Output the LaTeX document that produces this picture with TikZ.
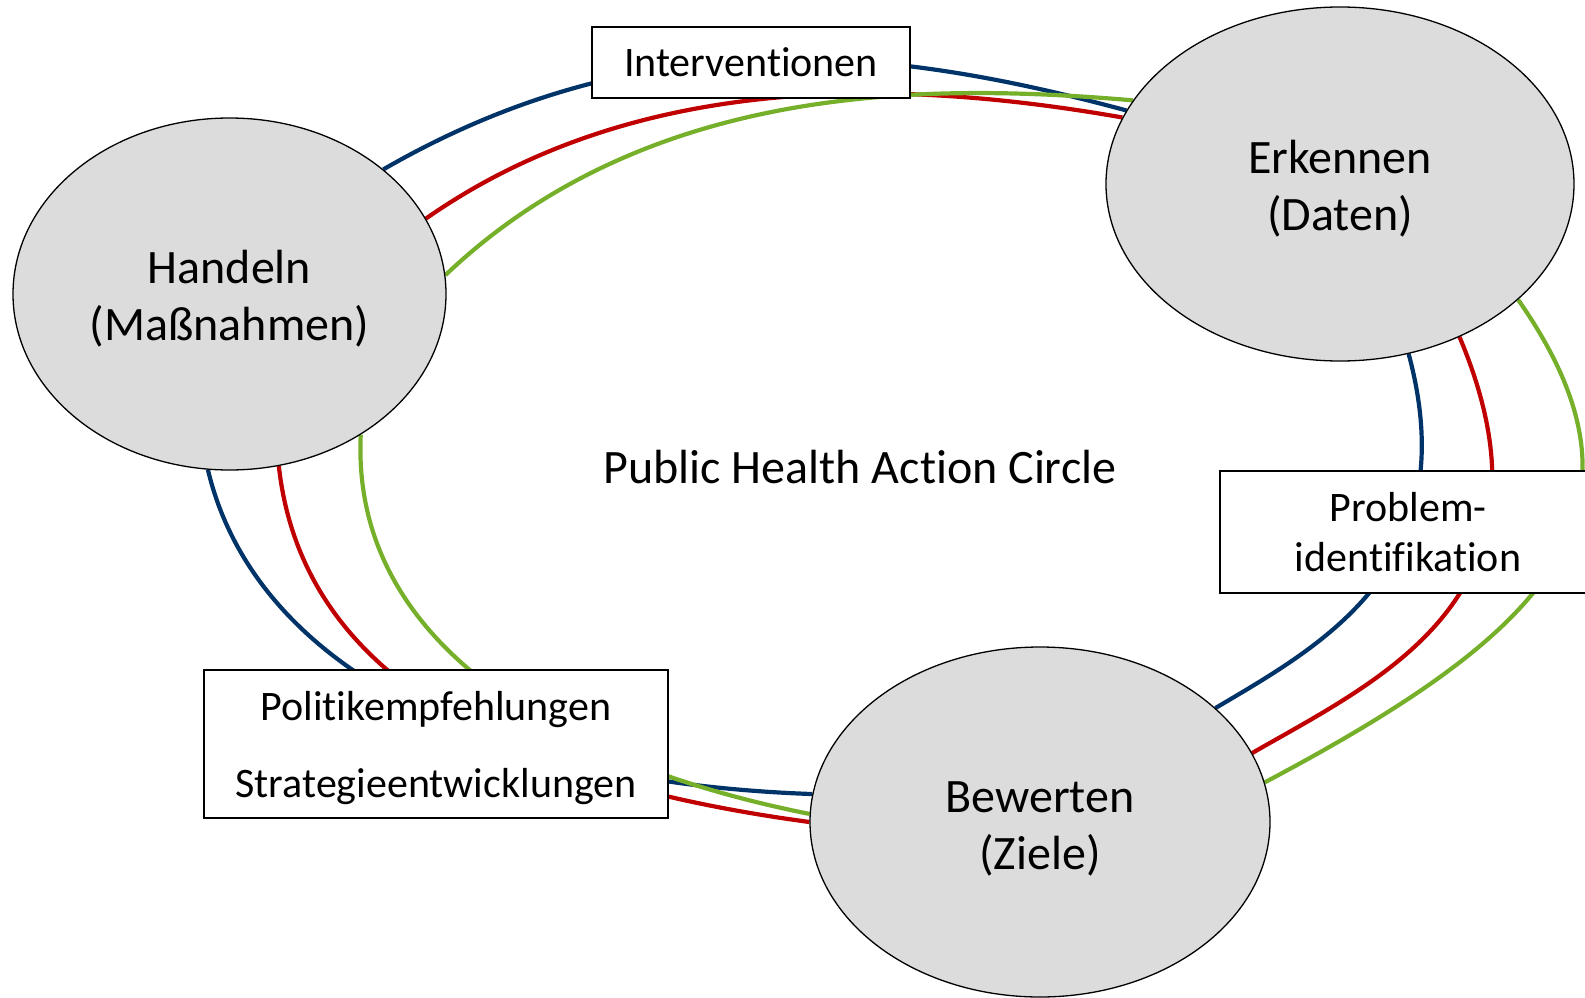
\documentclass[tikz,border=0pt]{standalone}
\usepackage{fontspec}
\setmainfont{Carlito}[Ligatures=NoCommon]
\usetikzlibrary{shapes.geometric}
\definecolor{cblue}{RGB}{0,52,105}
\definecolor{cred}{RGB}{192,0,0}
\definecolor{cgreen}{RGB}{118,176,43}
\definecolor{cfill}{RGB}{220,220,220}
\pgfdeclarelayer{bg}
\pgfsetlayers{bg,main}
\begin{document}
\begin{tikzpicture}[x=1pt,y=-1pt,
  phase/.style={ellipse, draw=black, line width=1.3pt, fill=cfill, inner sep=0pt},
  phasetext/.style={align=center, inner sep=0pt, font=\fontsize{48}{57}\selectfont},
  labelbox/.style={draw=black, line width=1.8pt, fill=white, inner sep=0pt, align=center, font=\fontsize{42}{50}\selectfont},
  link/.style={line width=4.2pt}]
\useasboundingbox (0,0) rectangle (1585,998);
\clip (0,0) rectangle (1585,998);
% phases
\node[phase, minimum width=433pt, minimum height=352pt] (h) at (229.5,294) {};
\node[phase, minimum width=468pt, minimum height=354pt] (e) at (1340,184) {};
\node[phase, minimum width=460pt, minimum height=350pt] (b) at (1040,822) {};
\node[phasetext] (ht) at (229.5,299) {Handeln\\(Maßnahmen)};
\node[phasetext] (et) at (1340,189) {Erkennen\\(Daten)};
\node[phasetext] (bt) at (1040,829) {Bewerten\\(Ziele)};
% connectors (behind)
\begin{pgfonlayer}{bg}
% top: Handeln -> Erkennen
\draw[link, cblue]  (h.39) .. controls +(260,-150) and +(-241,-65) .. (e.161);
\draw[link, cred]   (h.21) .. controls +(213,-149) and +(-217,-38) .. (e.163);
\draw[link, cgreen] (h.5)  .. controls +(205,-195) and +(-199,-17) .. (e.158.5);
% right: Erkennen -> Bewerten
\draw[link, cblue]  (e.292.6) .. controls +(57,212)  and +(110,-65)  .. (b.33.6);
\draw[link, cred]   (e.308.6) .. controls +(109,258) and +(130,-75)  .. (b.18);
\draw[link, cgreen] (e.327.4) .. controls +(149,213) and +(283,-150) .. (b.10.6);
% bottom: Handeln -> Bewerten
\draw[link, cblue]  (h.263.5) .. controls +(45,190)  and +(-340,-12) .. (b.173.7);
\draw[link, cred]   (h.286.2) .. controls +(22,199)  and +(-326,-44) .. (b.180);
\draw[link, cgreen] (h.313.7) .. controls +(-10,210) and +(-250,-50) .. (b.178);
\end{pgfonlayer}
% label boxes
\node[labelbox, minimum width=318pt, minimum height=71pt] (iv) at (751,62.5) {Interventionen};
\node[labelbox, minimum width=376pt, minimum height=122pt] (pi) at (1408,532) {Problem-\\identifikation};
\node[labelbox, minimum width=464pt, minimum height=148pt] (pe) at (436,744) {};
\node[align=center, inner sep=0pt, font=\fontsize{42}{50}\selectfont] (pet) at (436,748) {Politikempfehlungen\\[27pt]Strategieentwicklungen};
% title
\node[font=\fontsize{48}{57}\selectfont, anchor=base, inner sep=0pt] (title) at (860,483) {Public Health Action Circle};
\end{tikzpicture}
\end{document}
